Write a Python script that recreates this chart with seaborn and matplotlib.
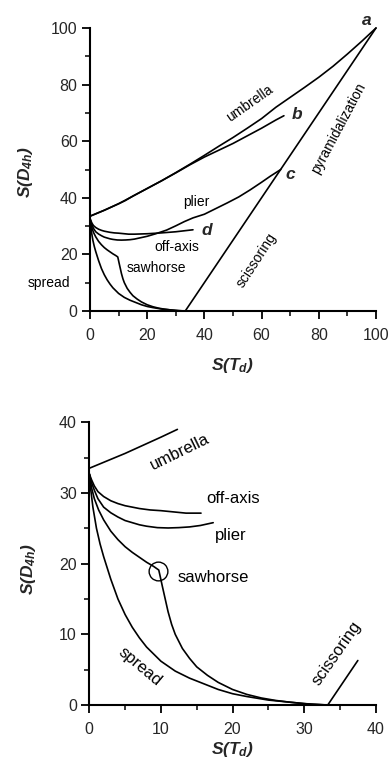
import numpy as np
import pandas as pd
import matplotlib
matplotlib.use("Agg")
import matplotlib.pyplot as plt
import seaborn as sns

sns.set_style("ticks")
plt.rcParams["font.family"] = ["Liberation Sans", "DejaVu Sans"]
plt.rcParams["mathtext.fontset"] = "custom"
plt.rcParams["mathtext.it"] = "Liberation Sans:bold:italic"
plt.rcParams["mathtext.rm"] = "Liberation Sans:bold:italic"
plt.rcParams["mathtext.bf"] = "Liberation Sans:bold:italic"

# Continuous-symmetry-measure paths: S(Td) vs S(D4h)
umbrella_x = [0, 5, 10, 12.3, 15, 20, 25, 30, 35, 40, 45, 50, 55, 60, 65, 70, 75, 80, 85, 90, 95, 100]
umbrella_y = [33.5, 35.6, 37.9, 39.0, 40.6, 43.3, 46.0, 48.9, 51.9, 55.0, 58.2, 61.3, 64.6, 68.0, 72.0,
              75.5, 79.0, 82.6, 86.5, 90.8, 95.3, 100]

path_b_x = [0, 5, 10, 15, 20, 25, 30, 35, 40, 45, 50, 55, 60, 65, 67.8]
path_b_y = [33.5, 35.6, 37.9, 40.6, 43.3, 46.0, 48.8, 51.7, 54.4, 56.8, 59.2, 61.9, 64.6, 67.5, 69.0]

plier_x = [0, 0.3, 0.7, 1.2, 2, 3, 4, 5, 6, 7, 8, 9.5, 11, 12.5, 14, 15.5, 17.3, 20, 23, 26.8,
           30, 33, 36, 40, 44, 48, 52, 56, 60, 63, 66.7]
plier_y = [32.7, 31.5, 30.4, 29.2, 28.0, 27.2, 26.6, 26.1, 25.8, 25.5, 25.3, 25.1, 25.05, 25.1, 25.2,
           25.4, 25.8, 26.4, 27.3, 28.6, 30.1, 31.6, 32.9, 34.2, 36.2, 38.2, 40.3, 42.8, 45.5, 47.6, 50.0]

offaxis_x = [0, 0.3, 0.7, 1.2, 2, 3, 4, 5, 6, 7, 8.5, 10, 12, 13.5, 15.6, 20, 25, 30, 36.0]
offaxis_y = [32.7, 31.9, 31.0, 30.2, 29.5, 28.9, 28.5, 28.2, 28.0, 27.8, 27.6, 27.5, 27.3, 27.15,
             27.15, 27.3, 27.6, 28.0, 28.7]

sawhorse_x = [0, 0.3, 0.7, 1.3, 2, 3, 4, 5, 6, 7, 8, 9, 9.7, 9.9, 10.2, 10.6, 11, 11.5, 12, 13, 14,
              15, 16.5, 18, 20, 22, 24, 26, 28, 30, 33.3]
sawhorse_y = [32.7, 30.8, 29.2, 27.6, 26.2, 24.6, 23.4, 22.4, 21.6, 20.9, 20.2, 19.6, 19.1, 18.2, 16.8,
              15.0, 13.2, 11.4, 10.0, 8.0, 6.6, 5.4, 4.2, 3.2, 2.2, 1.5, 1.0, 0.65, 0.4, 0.2, 0.0]

spread_x = [0, 0.2, 0.5, 1, 1.5, 2, 3, 4, 5, 6, 7, 8, 10, 12, 14, 16, 18, 20, 22, 25, 28, 31, 33.3]
spread_y = [32.7, 30.5, 28.0, 25.0, 22.8, 21.0, 17.8, 15.0, 12.8, 11.0, 9.5, 8.2, 6.2, 4.8, 3.8, 3.0,
            2.2, 1.6, 1.2, 0.7, 0.4, 0.1, 0.0]

scissor_x = [33.3, 100]
scissor_y = [0.0, 100]

# End points of the bottom-panel (zoomed) segments
zoom_ends = {"umbrella": 12.3, "offaxis": 15.6, "plier": 17.3, "scissor": 37.5}

sawhorse_mark = (9.6, 19.0)

curves = {
    "umbrella": (umbrella_x, umbrella_y),
    "b": (path_b_x, path_b_y),
    "plier": (plier_x, plier_y),
    "offaxis": (offaxis_x, offaxis_y),
    "sawhorse": (sawhorse_x, sawhorse_y),
    "spread": (spread_x, spread_y),
    "scissor": (scissor_x, scissor_y),
}


def truncate(x, y, xmax):
    x = np.asarray(x, float)
    y = np.asarray(y, float)
    keep = x <= xmax
    xs, ys = list(x[keep]), list(y[keep])
    if xs[-1] < xmax:
        xs.append(xmax)
        ys.append(float(np.interp(xmax, x, y)))
    return xs, ys


def draw(ax, x, y):
    df = pd.DataFrame({"x": x, "y": y})
    sns.lineplot(data=df, x="x", y="y", sort=False, estimator=None,
                 color="black", lw=1.2, ax=ax, clip_on=False)


fig = plt.figure(figsize=(3.90, 7.63), dpi=100)
ax1 = fig.add_axes([0.2308, 0.5924, 0.7333, 0.3709])
ax2 = fig.add_axes([0.2290, 0.0760, 0.7344, 0.3705])

# ---- top panel: full range ----
for name, (cx, cy) in curves.items():
    draw(ax1, cx, cy)

# ---- bottom panel: low-distortion region ----
for name in ["umbrella", "plier", "offaxis", "sawhorse", "spread", "scissor"]:
    cx, cy = curves[name]
    if name in zoom_ends:
        cx, cy = truncate(cx, cy, zoom_ends[name])
    draw(ax2, cx, cy)
ax2.plot(*sawhorse_mark, marker="o", ms=13.5, mfc="none", mec="black", mew=1.0)

label_pos = {ax1: ((0.5, -0.194), (-0.227, 0.49)), ax2: ((0.5, -0.158), (-0.214, 0.48))}

for ax, lim, major, minor in [(ax1, 100, 20, 10), (ax2, 40, 10, 5)]:
    ax.set_xlim(0, lim)
    ax.set_ylim(0, lim)
    ax.set_xticks(np.arange(0, lim + 1, major))
    ax.set_yticks(np.arange(0, lim + 1, major))
    ax.set_xticks(np.arange(0, lim + 1, minor), minor=True)
    ax.set_yticks(np.arange(0, lim + 1, minor), minor=True)
    sns.despine(ax=ax)
    for s in ["left", "bottom"]:
        ax.spines[s].set_linewidth(1.5)
        ax.spines[s].set_color("black")
    ax.tick_params(which="major", length=6, width=1.3, labelsize=11.5, color="black")
    ax.tick_params(which="minor", length=3.5, width=1.1, color="black")
    ax.tick_params(axis="x", which="major", pad=6)
    ax.tick_params(axis="y", which="major", pad=3)
    ax.set_xlabel(r"$S(T_d)$", fontsize=12.5, va="center")
    ax.set_ylabel(r"$S(D_{4h})$", fontsize=12.5, va="center")
    (xl, yl) = label_pos[ax]
    ax.xaxis.set_label_coords(*xl)
    ax.yaxis.set_label_coords(*yl)

# top panel annotations
t = dict(fontsize=10, ha="center", va="center", color="black")
ax1.text(56, 73.5, "umbrella", rotation=35, **t)
ax1.text(87, 64.5, "pyramidalization", rotation=62, **t)
ax1.text(58.3, 18, "scissoring", rotation=57, **t)
ax1.text(37.3, 38.6, "plier", **t)
ax1.text(30.3, 22.5, "off-axis", **t)
ax1.text(23.1, 15.1, "sawhorse", **t)
ax1.text(-14.5, 10, "spread", **t)
lt = dict(fontsize=12.5, fontweight="bold", style="italic", ha="center", va="center")
ax1.text(96.7, 102.6, "a", **lt)
ax1.text(72.3, 69.6, "b", **lt)
ax1.text(69.9, 48.4, "c", **lt)
ax1.text(41.0, 28.6, "d", **lt)

# bottom panel annotations
b = dict(fontsize=12, ha="center", va="center", color="black")
ax2.text(12.7, 35.8, "umbrella", rotation=26, **b)
ax2.text(20.1, 29.2, "off-axis", **b)
ax2.text(19.7, 24.0, "plier", **b)
ax2.text(17.3, 18.1, "sawhorse", **b)
ax2.text(7.1, 5.4, "spread", rotation=-40, **b)
ax2.text(34.6, 7.3, "scissoring", rotation=55, **b)

fig.savefig("out.png", dpi=100)
